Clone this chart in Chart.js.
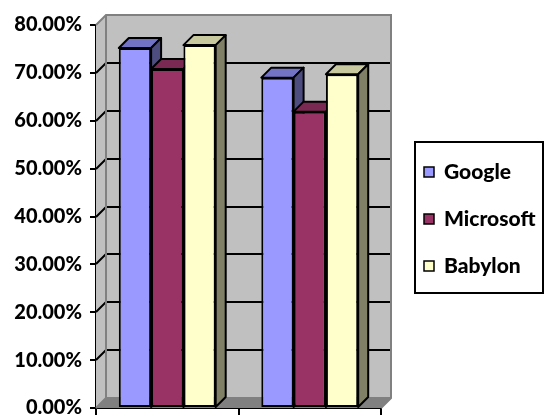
<!DOCTYPE html>
<html>
<head>
<meta charset="utf-8">
<script src="https://cdn.jsdelivr.net/npm/chart.js@4/dist/chart.umd.min.js"></script>
<style>
  html, body { margin: 0; padding: 0; background: #fff; }
  #wrap { width: 544px; height: 418px; }
</style>
</head>
<body>
<div id="wrap"><canvas id="myChart" width="544" height="418"></canvas></div>
<script>
// chart data
const categories = ['Set 1', 'Set 2'];
const seriesNames = ['Google', 'Microsoft', 'Babylon'];
const googleValues = [75.2, 69.0];
const microsoftValues = [70.8, 61.9];
const babylonValues = [75.8, 69.7];
const yTicks = [0, 10, 20, 30, 40, 50, 60, 70, 80];

// colours: front, top, side
const faceColors = [
    ['#9999FF', '#7373C6', '#4D4D80'],
    ['#993366', '#7A2952', '#4D1A33'],
    ['#FFFFCC', '#C9C9A0', '#808066']
];
const DEPTH = 10;
const FONT = 'Lato, "DejaVu Sans", sans-serif';

function poly(ctx, pts, fill, stroke, lw) {
    ctx.beginPath();
    ctx.moveTo(pts[0][0], pts[0][1]);
    for (let i = 1; i < pts.length; i++) ctx.lineTo(pts[i][0], pts[i][1]);
    ctx.closePath();
    if (fill) { ctx.fillStyle = fill; ctx.fill(); }
    if (stroke) { ctx.strokeStyle = stroke; ctx.lineWidth = lw; ctx.stroke(); }
}

// walls, floor, gridlines and the bar tops/sides, all behind the bar fronts
const wallsPlugin = {
    id: 'walls',
    beforeDatasetsDraw(chart) {
        const ctx = chart.ctx;
        const a = chart.chartArea;
        const y = chart.scales.y;
        const d = DEPTH;
        ctx.save();
        // back wall
        poly(ctx, [[a.left + d, a.top - d], [a.right + d, a.top - d], [a.right + d, a.bottom - d], [a.left + d, a.bottom - d]], '#C0C0C0', null);
        // side wall
        poly(ctx, [[a.left, a.top], [a.left + d, a.top - d], [a.left + d, a.bottom - d], [a.left, a.bottom]], '#C0C0C0', null);
        // floor
        poly(ctx, [[a.left, a.bottom], [a.right, a.bottom], [a.right + d, a.bottom - d], [a.left + d, a.bottom - d]], '#808080', null);
        // gridlines
        ctx.strokeStyle = '#000';
        ctx.lineWidth = 2;
        yTicks.forEach(v => {
            if (v === 0 || v === 80) return;
            const py = Math.round(y.getPixelForValue(v));
            ctx.beginPath();
            ctx.moveTo(a.left, py);
            ctx.lineTo(a.left + d, py - d);
            ctx.lineTo(a.right + d, py - d);
            ctx.stroke();
        });
        // wall outlines
        ctx.strokeStyle = '#808080';
        ctx.lineWidth = 2;
        ctx.beginPath();
        ctx.moveTo(a.left, a.top);
        ctx.lineTo(a.left + d, a.top - d);
        ctx.lineTo(a.right + d, a.top - d);
        ctx.lineTo(a.right + d, a.bottom - d);
        ctx.lineTo(a.right, a.bottom);
        ctx.moveTo(a.left + d, a.top - d);
        ctx.lineTo(a.left + d, a.bottom - d);
        ctx.lineTo(a.right + d, a.bottom - d);
        ctx.moveTo(a.left + d, a.bottom - d);
        ctx.lineTo(a.left, a.bottom);
        ctx.stroke();

        // top and side faces, left series first so the next front covers them
        ctx.lineJoin = 'round';
        for (let i = 0; i < chart.data.datasets.length; i++) {
            const meta = chart.getDatasetMeta(i);
            const cols = faceColors[i];
            meta.data.forEach(bar => {
                const p = bar.getProps(['x', 'y', 'base', 'width'], true);
                const l = p.x - p.width / 2, r = p.x + p.width / 2;
                poly(ctx, [[l, p.y], [r, p.y], [r + d, p.y - d], [l + d, p.y - d]], cols[1], '#000', 2);
                poly(ctx, [[r, p.y], [r + d, p.y - d], [r + d, p.base - d], [r, p.base]], cols[2], '#000', 2);
            });
        }
        ctx.restore();
    },
    // framed legend on the right
    afterDraw(chart) {
        const ctx = chart.ctx;
        ctx.save();
        ctx.strokeStyle = '#000';
        ctx.lineWidth = 2;
        ctx.strokeRect(415, 142, 128, 151);
        ctx.font = '900 21px ' + FONT;
        ctx.textBaseline = 'middle';
        const rows = [172, 219, 266];
        seriesNames.forEach((name, i) => {
            ctx.fillStyle = faceColors[i][0];
            ctx.fillRect(424, rows[i] - 5, 10, 10);
            ctx.lineWidth = 1.5;
            ctx.strokeRect(424, rows[i] - 5, 10, 10);
            ctx.fillStyle = '#000';
            ctx.fillText(name, 444, rows[i]);
        });
        ctx.restore();
    }
};

const valueLists = [googleValues, microsoftValues, babylonValues];

new Chart(document.getElementById('myChart'), {
    type: 'bar',
    data: {
        labels: categories,
        datasets: seriesNames.map((name, i) => ({
            label: name,
            data: valueLists[i],
            backgroundColor: faceColors[i][0],
            borderColor: '#000',
            borderWidth: 2,
            borderSkipped: false,
            categoryPercentage: 0.68,
            barPercentage: 1.0
        }))
    },
    options: {
        responsive: false,
        animation: false,
        layout: { padding: { left: 0, right: 163, top: 25, bottom: 0 } },
        plugins: {
            legend: { display: false },
            tooltip: { enabled: false }
        },
        scales: {
            x: {
                ticks: { display: false },
                grid: { offset: true, drawOnChartArea: false, drawTicks: true, tickLength: 7, color: '#000', lineWidth: 2 },
                border: { color: '#000', width: 2 },
                afterFit(scale) { scale.height = 10; }
            },
            y: {
                min: 0,
                max: 80,
                afterBuildTicks(scale) { scale.ticks = yTicks.map(v => ({ value: v })); },
                ticks: {
                    color: '#000',
                    padding: 8,
                    font: { family: FONT, size: 20, weight: '900' },
                    callback: v => v.toFixed(2) + '%'
                },
                grid: { drawOnChartArea: false, drawTicks: true, tickLength: 6, color: '#000', lineWidth: 2 },
                border: { color: '#000', width: 2 },
                afterFit(scale) {
                    scale.width = 96;
                    scale.paddingTop = 0;
                    scale.paddingBottom = 0;
                }
            }
        }
    },
    plugins: [wallsPlugin]
});
</script>
</body>
</html>
